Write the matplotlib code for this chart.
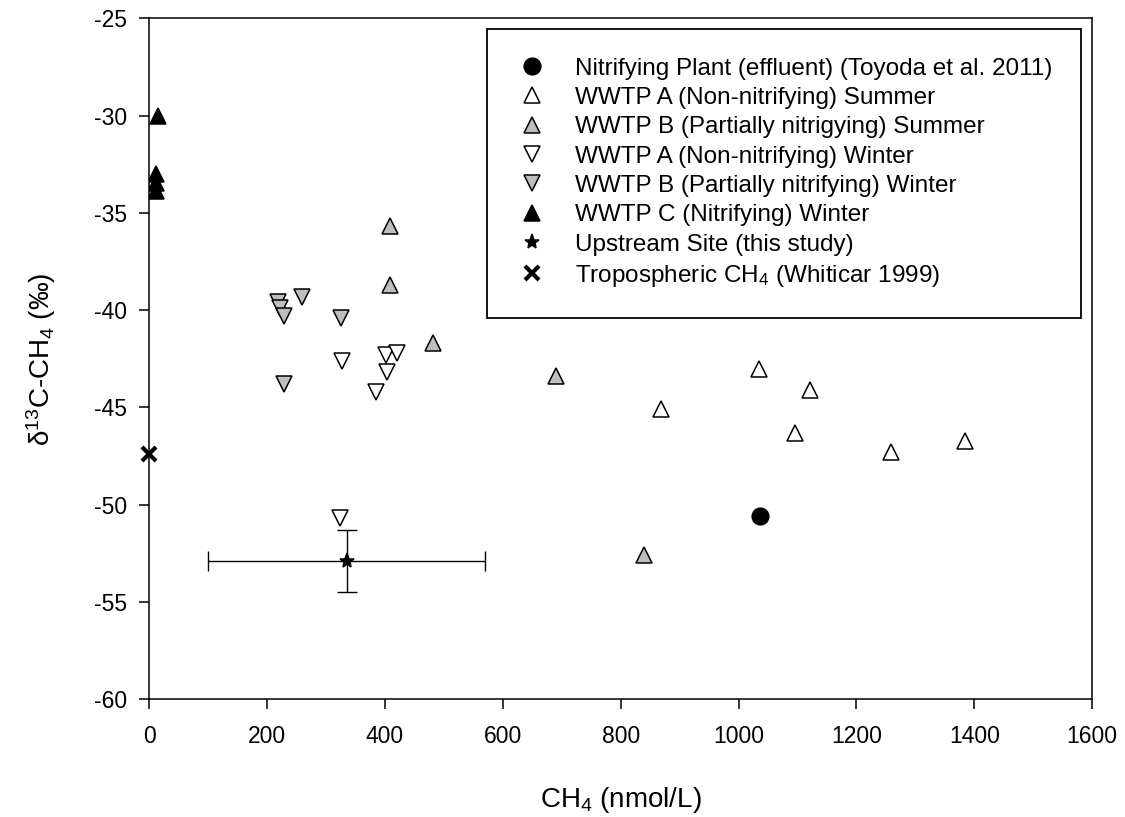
import matplotlib
matplotlib.use("Agg")
import matplotlib.pyplot as plt

plt.rcParams["font.family"] = ["Liberation Sans", "DejaVu Sans"]
plt.rcParams["mathtext.fontset"] = "custom"
plt.rcParams["mathtext.rm"] = "Liberation Sans"
plt.rcParams["mathtext.it"] = "Liberation Sans:italic"
plt.rcParams["axes.unicode_minus"] = False

GRAY = "#bebebe"

# values
plant_x = [1036]
plant_y = [-50.6]
a_sum_x = [1035, 1121, 868, 1096, 1259, 1385]
a_sum_y = [-43.0, -44.1, -45.1, -46.3, -47.3, -46.7]
b_sum_x = [408, 408, 481, 690, 840]
b_sum_y = [-35.7, -38.7, -41.7, -43.4, -52.6]
a_win_x = [327, 402, 420, 404, 385, 323]
a_win_y = [-42.6, -42.3, -42.2, -43.2, -44.2, -50.7]
b_win_x = [218, 221, 228, 260, 326, 229]
b_win_y = [-39.6, -39.9, -40.3, -39.3, -40.4, -43.8]
c_win_x = [14, 11, 12, 12]
c_win_y = [-30.0, -33.0, -33.45, -33.9]
up_x, up_y = [335], [-52.9]
up_xerr, up_yerr = [235], [1.6]
trop_x, trop_y = [0], [-47.4]

X_TICKS = list(range(0, 1601, 200))
Y_TICKS = list(range(-60, -24, 5))

fig = plt.figure(figsize=(11.25, 8.17), dpi=100)
ax = fig.add_axes([0.1327, 0.1441, 0.838, 0.8335])

mk = dict(ls="none", mec="black", mew=1.1)
ax.errorbar(up_x, up_y, xerr=up_xerr, yerr=up_yerr, fmt="none", ecolor="black",
            elinewidth=1.0, capsize=7, capthick=1.0, zorder=2)

ax.plot(plant_x, plant_y, marker="o", ms=12, mfc="black",
        label="Nitrifying Plant (effluent) (Toyoda et al. 2011)", zorder=3, **mk)
ax.plot(a_sum_x, a_sum_y, marker="^", ms=12, mfc="white",
        label="WWTP A (Non-nitrifying) Summer", zorder=3, **mk)
ax.plot(b_sum_x, b_sum_y, marker="^", ms=12, mfc=GRAY,
        label="WWTP B (Partially nitrigying) Summer", zorder=3, **mk)
ax.plot(a_win_x, a_win_y, marker="v", ms=12, mfc="white",
        label="WWTP A (Non-nitrifying) Winter", zorder=3, **mk)
ax.plot(b_win_x, b_win_y, marker="v", ms=12, mfc=GRAY,
        label="WWTP B (Partially nitrifying) Winter", zorder=3, **mk)
ax.plot(c_win_x, c_win_y, marker="^", ms=12, mfc="black",
        label="WWTP C (Nitrifying) Winter", zorder=3, **mk)
ax.plot(up_x, up_y, marker="*", ms=11, mfc="black",
        label="Upstream Site (this study)", zorder=4, **mk)
ax.plot(trop_x, trop_y, ls="none", marker="x", ms=10, mec="black", mew=3,
        label="Tropospheric CH$_4$ (Whiticar 1999)", zorder=4, clip_on=False)

ax.set_xlim(0, 1600)
ax.set_ylim(-60, -25)
ax.set_xticks(X_TICKS)
ax.set_yticks(Y_TICKS)
ax.tick_params(direction="out", length=7.2, width=1.1, labelsize=16.5, top=False, right=False)
ax.tick_params(axis="x", pad=11)
ax.tick_params(axis="y", pad=9)
for s in ax.spines.values():
    s.set_linewidth(1.1)

ax.set_xlabel("CH$_4$ (nmol/L)", fontsize=20, labelpad=27)
ax.set_ylabel("\u03b4$^{13}$C-CH$_4$ (\u2030)", fontsize=20, labelpad=26)

leg = ax.legend(loc="upper left", bbox_to_anchor=(0.358, 0.985), borderaxespad=0,
                fontsize=17.5, frameon=True, fancybox=False, edgecolor="black",
                framealpha=1, handlelength=1.3, handletextpad=1.12, borderpad=1.2,
                labelspacing=0.3, numpoints=1)
leg.get_frame().set_linewidth(1.3)

fig.savefig("out.png", dpi=100)
